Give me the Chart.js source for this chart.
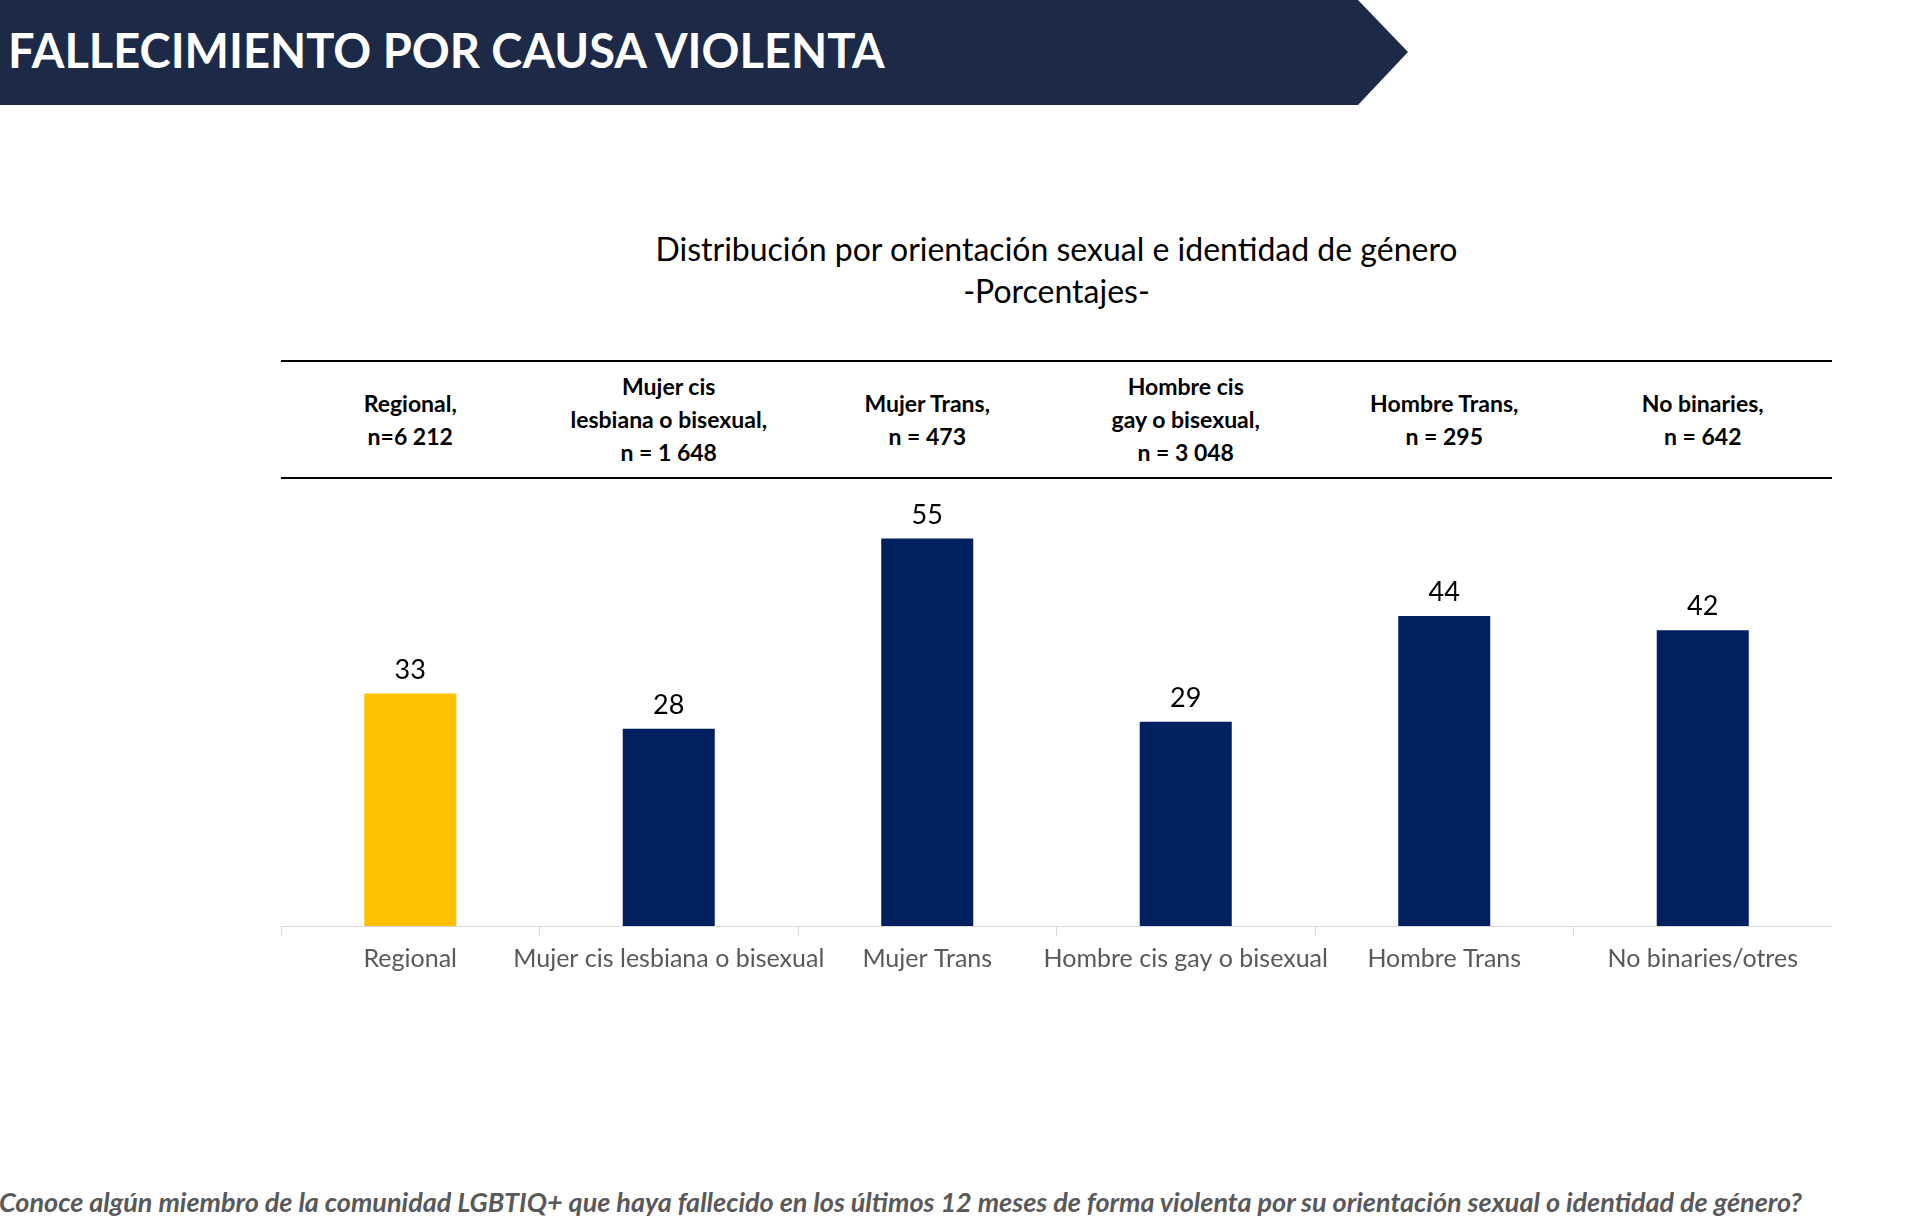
<!DOCTYPE html>
<html>
<head>
<meta charset="utf-8">
<script src="https://cdn.jsdelivr.net/npm/chart.js@4"></script>
<style>
  body { margin: 0; width: 1920px; height: 1220px; background: #fff; font-family: Lato, "Noto Sans", sans-serif; position: relative; overflow: hidden; }
  #banner { position: absolute; left: 0; top: 0; width: 1410px; height: 105px; }
  #bannerText { position: absolute; left: 8px; top: 22px; color: #fff; font-weight: bold; font-size: 47px; }
  #title { position: absolute; left: 281px; width: 1551px; top: 228px; text-align: center; font-size: 32px; line-height: 42px; color: #000; }
  #heads { position: absolute; left: 281px; width: 1551px; top: 360px; height: 115px; border-top: 2px solid #000; border-bottom: 2px solid #000; display: flex; }
  #heads div { flex: 1; display: flex; align-items: center; justify-content: center; text-align: center; font-weight: bold; font-size: 23px; line-height: 33px; }
  #wrap { position: absolute; left: 281px; top: 440px; width: 1551px; height: 542px; }
  #foot { position: absolute; right: 118px; top: 1185px; white-space: nowrap; font-style: italic; font-weight: bold; font-size: 27px; color: #595959; }
</style>
</head>
<body>
<svg id="banner" viewBox="0 0 1410 105"><polygon points="0,0 1358,0 1408,52 1358,105 0,105" fill="#1c2a47"/></svg>
<div id="bannerText">FALLECIMIENTO POR CAUSA VIOLENTA</div>
<div id="title">Distribución por orientación sexual e identidad de género<br>-Porcentajes-</div>
<div id="heads"></div>
<div id="wrap"><canvas id="myChart"></canvas></div>
<div id="foot">¿Conoce algún miembro de la comunidad LGBTIQ+ que haya fallecido en los últimos 12 meses de forma violenta por su orientación sexual o identidad de género?</div>
<script>
const categories = ['Regional', 'Mujer cis lesbiana o bisexual', 'Mujer Trans', 'Hombre cis gay o bisexual', 'Hombre Trans', 'No binaries/otres'];
const headerLabels = ['Regional,<br>n=6 212', 'Mujer cis<br>lesbiana o bisexual,<br>n = 1 648', 'Mujer Trans,<br>n = 473', 'Hombre cis<br>gay o bisexual,<br>n = 3 048', 'Hombre Trans,<br>n = 295', 'No binaries,<br>n = 642'];
const values = [33, 28, 55, 29, 44, 42];
const barColors = ['#ffc000', '#002060', '#002060', '#002060', '#002060', '#002060'];

// header row above the plot
document.getElementById('heads').innerHTML = headerLabels.map(h => '<div>' + h + '</div>').join('');

// draws the numbers above each bar
const valueLabels = {
  id: 'valueLabels',
  afterDatasetsDraw(chart) {
    const ctx = chart.ctx;
    ctx.save();
    ctx.font = '27px Lato, "Noto Sans", sans-serif';
    ctx.fillStyle = '#000';
    ctx.textAlign = 'center';
    ctx.textBaseline = 'bottom';
    chart.getDatasetMeta(0).data.forEach((bar, i) => {
      ctx.fillText(values[i], bar.x, bar.y - 10);
    });
    ctx.restore();
  }
};

const ctx = document.getElementById('myChart').getContext('2d');
new Chart(ctx, {
  type: 'bar',
  data: {
    labels: categories,
    datasets: [{ data: values, backgroundColor: barColors, barPercentage: 0.356, categoryPercentage: 1 }]
  },
  options: {
    responsive: true,
    maintainAspectRatio: false,
    animation: false,
    layout: { padding: 0 },
    plugins: { legend: { display: false }, tooltip: { enabled: false } },
    scales: {
      y: { display: false, min: 0, max: 69 },
      x: {
        grid: { offset: true, drawOnChartArea: false, tickLength: 10, color: '#d9d9d9' },
        border: { color: '#d9d9d9' },
        ticks: { color: '#595959', autoSkip: false, maxRotation: 0, minRotation: 0, font: { size: 25, family: 'Lato, "Noto Sans", sans-serif' }, padding: 8 }
      }
    }
  },
  plugins: [valueLabels]
});
</script>
</body>
</html>
